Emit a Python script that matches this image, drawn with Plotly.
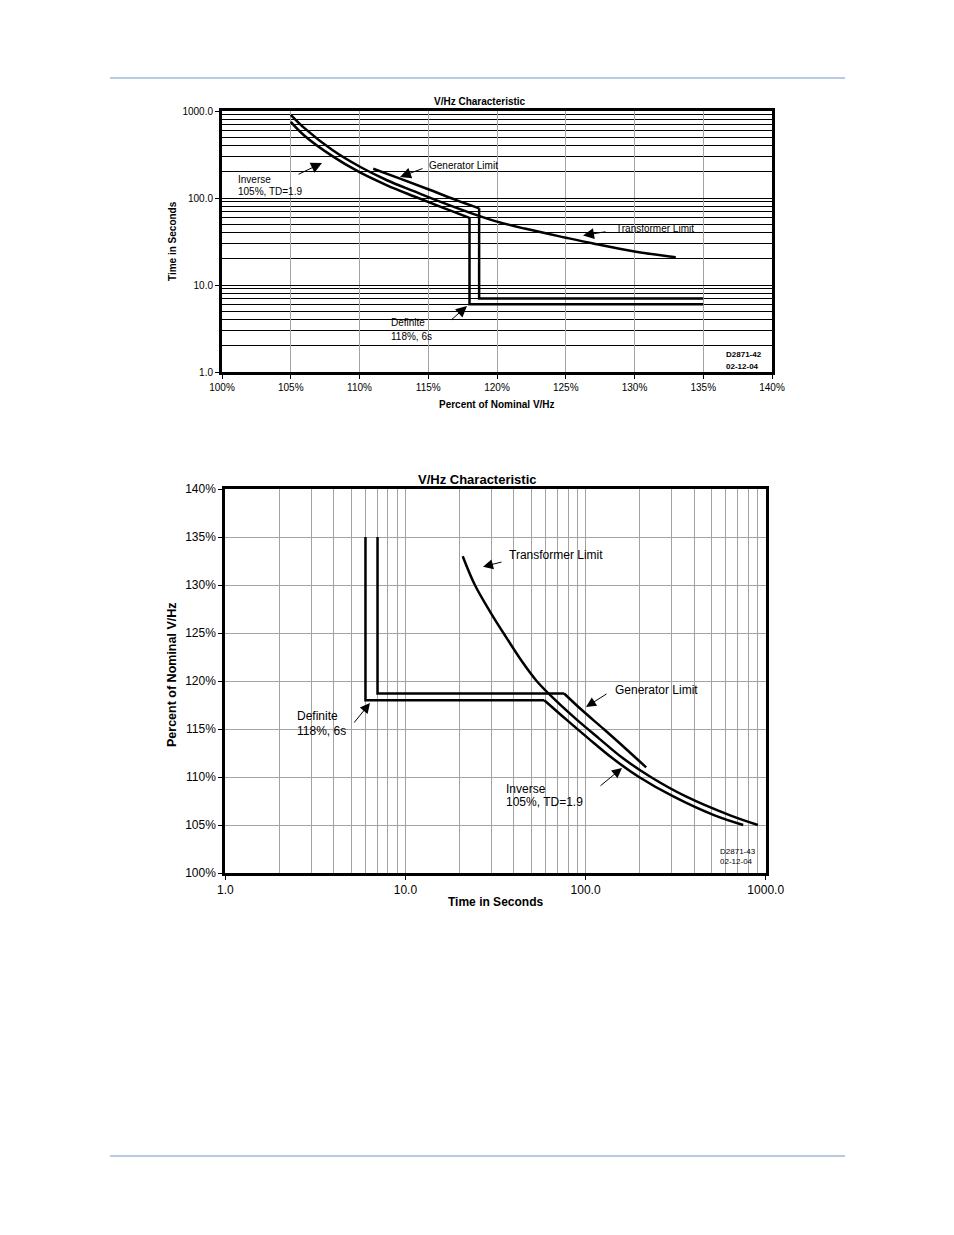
import plotly.graph_objects as go

# ---------------- data ----------------
# Relay: definite-time part (118 %, 6 s)
relay_def_pct = [135, 118, 118]
relay_def_sec = [6.0, 6.0, 59]
# Relay: inverse part (105 % pickup, TD = 1.9)
relay_inv_pct = [118, 116, 114, 112, 110, 108, 106, 105]
relay_inv_sec = [59, 78, 104, 140, 198, 305, 520, 750]

# Generator limit: definite part and inverse part
gen_def_pct = [135, 118.7, 118.7]
gen_def_sec = [7.0, 7.0, 76]
gen_inv_pct = [118.7, 117, 115, 113, 111]
gen_inv_sec = [76, 95, 126, 166, 217]

# Transformer limit
xfmr_pct = [133, 130, 127, 125, 122, 120, 118, 116, 114, 112, 110, 108, 106, 105]
xfmr_sec = [20.8, 24.3, 30, 35, 44.5, 53.5, 68, 89, 119, 160, 230, 358, 635, 905]

pct_ticks = [100, 105, 110, 115, 120, 125, 130, 135, 140]
pct_labels = ["100%", "105%", "110%", "115%", "120%", "125%", "130%", "135%", "140%"]
sec_ticks = [1, 10, 100, 1000]
sec_labels = ["1.0", "10.0", "100.0", "1000.0"]
sec_minor = [m * d for d in (1, 10, 100) for m in range(2, 10)]

W, H = 954, 1235
FONT = "Liberation Sans, Arial, sans-serif"


def P(x, y):
    return x / W, 1 - y / H


fig = go.Figure()

LW = 2.5
segments = [
    (relay_def_pct, relay_def_sec, "linear"),
    (relay_inv_pct, relay_inv_sec, "spline"),
    (gen_def_pct, gen_def_sec, "linear"),
    (gen_inv_pct, gen_inv_sec, "spline"),
    (xfmr_pct, xfmr_sec, "spline"),
]
# top chart: x = percent, y = time
for pct, sec, shp in segments:
    fig.add_trace(go.Scatter(x=pct, y=sec, mode="lines", xaxis="x", yaxis="y",
                             line=dict(color="black", width=LW, shape=shp),
                             showlegend=False, hoverinfo="skip"))
# bottom chart: x = time, y = percent
for pct, sec, shp in segments:
    fig.add_trace(go.Scatter(x=sec, y=pct, mode="lines", xaxis="x2", yaxis="y2",
                             line=dict(color="black", width=LW, shape=shp),
                             showlegend=False, hoverinfo="skip"))

GRAY = "#a3a3a3"
axis_common = dict(showline=True, linecolor="black", linewidth=3, mirror=True,
                   zeroline=False, ticks="outside", ticklen=4, tickcolor="black",
                   tickwidth=1, automargin=False)

# top plot area: x 222..772, y 111..372
tx0, tx1, ty0, ty1 = 222, 772, 111, 372
# bottom plot area: x 225..766, y 489..873
bx0, bx1, by0, by1 = 225.3, 765.7, 489, 873

fig.update_layout(
    width=W, height=H, autosize=False,
    margin=dict(l=0, r=0, t=0, b=0, pad=0, autoexpand=False),
    showlegend=False,
    paper_bgcolor="white", plot_bgcolor="white",
    font=dict(family=FONT, color="black"),
    xaxis=dict(domain=[tx0 / W, tx1 / W], range=[100, 140], anchor="y",
               tickmode="array", tickvals=pct_ticks, ticktext=pct_labels,
               showgrid=True, gridcolor=GRAY, gridwidth=1,
               tickfont=dict(size=10, family=FONT), **axis_common),
    yaxis=dict(domain=[1 - ty1 / H, 1 - ty0 / H], type="log", range=[0, 3], anchor="x",
               tickmode="array", tickvals=sec_ticks, ticktext=sec_labels,
               showgrid=True, gridcolor="black", gridwidth=1,
               minor=dict(tickmode="array", tickvals=sec_minor, showgrid=True,
                          gridcolor="black", gridwidth=1, ticks=""),
               tickfont=dict(size=10, family=FONT), **axis_common),
    xaxis2=dict(domain=[bx0 / W, bx1 / W], type="log", range=[0, 3], anchor="y2",
                tickmode="array", tickvals=sec_ticks, ticktext=sec_labels,
                showgrid=True, gridcolor=GRAY, gridwidth=1,
                minor=dict(tickmode="array", tickvals=sec_minor, showgrid=True,
                           gridcolor=GRAY, gridwidth=1, ticks=""),
                tickfont=dict(size=12, family=FONT), **axis_common),
    yaxis2=dict(domain=[1 - by1 / H, 1 - by0 / H], range=[100, 140], anchor="x2",
                tickmode="array", tickvals=pct_ticks, ticktext=pct_labels,
                showgrid=True, gridcolor=GRAY, gridwidth=1,
                tickfont=dict(size=12, family=FONT), **axis_common),
)

# page rules (light blue)
for yy in (78, 1156):
    fig.add_shape(type="line", xref="paper", yref="paper",
                  x0=110 / W, x1=845 / W, y0=1 - yy / H, y1=1 - yy / H,
                  line=dict(color="#b7cce3", width=2))

annots = []


def text(x, y, s, size, bold=False, anchor="left", angle=0):
    px, py = P(x, y)
    annots.append(dict(x=px, y=py, xref="paper", yref="paper", text=("<b>%s</b>" % s) if bold else s,
                       showarrow=False, xanchor=anchor, yanchor="middle", textangle=angle,
                       font=dict(size=size, family=FONT, color="black")))


def arrow(tail, head, size=2.0):
    hx, hy = P(*head)
    annots.append(dict(x=hx, y=hy, xref="paper", yref="paper", text="",
                       showarrow=True, ax=tail[0] - head[0], ay=tail[1] - head[1],
                       axref="pixel", ayref="pixel", arrowhead=2, arrowsize=size,
                       arrowwidth=1, arrowcolor="black"))


# ---- top chart texts ----
text(480, 102, "V/Hz Characteristic", 10, bold=True, anchor="center")
text(172, 241, "Time in Seconds", 10, bold=True, anchor="center", angle=-90)
text(497, 404, "Percent of Nominal V/Hz", 10, bold=True, anchor="center")
text(427, 165, "Generator Limit", 10)
arrow((424, 168), (400, 177), 2.2)
text(236, 179, "Inverse", 10)
text(236, 191, "105%, TD=1.9", 10)
arrow((297, 175), (322, 163), 2.2)
text(614, 228, "Transformer Limit", 10)
arrow((607, 231.5), (583, 235.5), 2.2)
text(389, 323, "Definite", 10)
text(389, 336, "118%, 6s", 10)
arrow((450, 321), (467, 306), 2.2)
text(724, 355, "D2871-42", 8, bold=True)
text(724, 366, "02-12-04", 8, bold=True)

# ---- bottom chart texts ----
text(478, 479, "V/Hz Characteristic", 13, bold=True, anchor="center")
text(172, 675, "Percent of Nominal V/Hz", 12.5, bold=True, anchor="center", angle=-90)
text(495, 902, "Time in Seconds", 12, bold=True, anchor="center")
text(507, 555, "Transformer Limit", 12)
arrow((503, 561.7), (483, 566.7))
text(613, 690, "Generator Limit", 12)
arrow((608, 693), (586, 707))
text(504, 789, "Inverse", 12)
text(504, 802, "105%, TD=1.9", 12)
arrow((599, 787), (622, 768))
text(295, 716, "Definite", 12)
text(295, 731, "118%, 6s", 12)
arrow((353, 724), (370, 703))
text(718, 851, "D2871-43", 8)
text(718, 861, "02-12-04", 8)

fig.update_layout(annotations=annots)

fig.write_html("out.html")
